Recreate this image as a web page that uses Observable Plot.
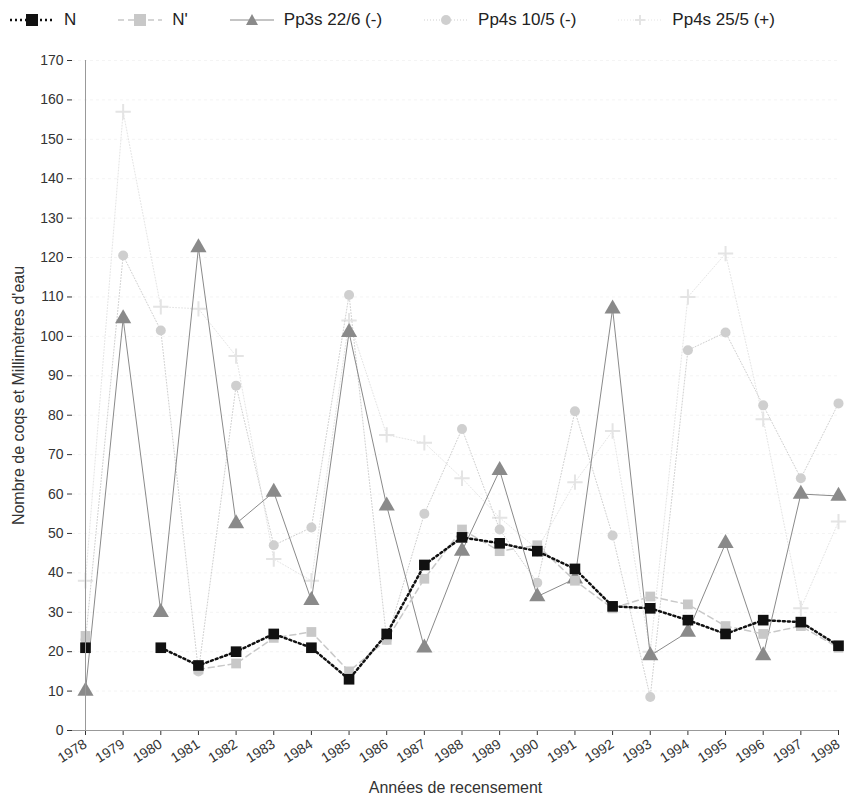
<!DOCTYPE html>
<html><head><meta charset="utf-8">
<script src="https://cdn.jsdelivr.net/npm/d3@7"></script>
<script src="https://cdn.jsdelivr.net/npm/@observablehq/plot@0.6"></script>
<style>
body{margin:0;background:#fff;font-family:"Liberation Sans",Arial,sans-serif;}
#legend{height:40px;display:flex;align-items:center;font-size:17px;color:#222;padding-left:8px;}
#legend .it{display:flex;align-items:center;margin-right:40px;}
#legend svg{margin-right:8px;}
</style></head><body>
<div id="legend"></div>
<div id="chart"></div>
<script>
const years = [1978,1979,1980,1981,1982,1983,1984,1985,1986,1987,1988,1989,1990,1991,1992,1993,1994,1995,1996,1997,1998];
const N      = [21,null,21,16.5,20,24.5,21,13,24.5,42,49,47.5,45.5,41,31.5,31,28,24.5,28,27.5,21.5];
const Nprime = [24,null,null,15.5,17,23.5,25,15,23,38.5,51,45.5,47,38,31,34,32,26.5,24.5,26.5,21];
const Pp3s   = [10,104.5,30,122.5,52.5,60.5,33,101,57,21,45.5,66,34,38.5,107,19,25,47.5,19,60,59.5];
const Pp4s10 = [23,120.5,101.5,15,87.5,47,51.5,110.5,23,55,76.5,51,37.5,81,49.5,8.5,96.5,101,82.5,64,83];
const Pp4s25 = [38,157,107.5,107,95,43.5,38,104,75,73,64,54,46,63,76,20,110,121,79,31,53];
const yTicks = d3.range(0,171,10);

const series = [
  {name:"N", vals:N, color:"#111", dash:"2,3", width:2.5, symbol:"square", r:6},
  {name:"N'", vals:Nprime, color:"#c8c8c8", dash:"6,4", width:1.5, symbol:"square", r:5.5},
  {name:"Pp3s 22/6 (-)", vals:Pp3s, color:"#8a8a8a", dash:null, width:1, symbol:"triangle", r:6},
  {name:"Pp4s 10/5 (-)", vals:Pp4s10, color:"#cfcfcf", dash:"1,2", width:1, symbol:"circle", r:5},
  {name:"Pp4s 25/5 (+)", vals:Pp4s25, color:"#e4e4e4", dash:"1,2", width:1, symbol:"plus", r:5}
];
const order = [4,3,2,1,0];
const marks = [Plot.ruleY(yTicks.slice(1), {stroke:"#f4f4f4", strokeDasharray:"3,3"})];
for (const i of order) {
  const s = series[i];
  const data = years.map((y,k)=>({year:y, v:s.vals[k]}));
  marks.push(Plot.line(data, {x:"year", y:"v", stroke:s.color, strokeWidth:s.width, strokeDasharray:s.dash}));
  const pts = data.filter(d=>d.v!=null);
  if (s.symbol==="plus") marks.push(Plot.dot(pts,{x:"year",y:"v",symbol:"plus",stroke:s.color,strokeWidth:2,r:s.r}));
  else marks.push(Plot.dot(pts,{x:"year",y:"v",symbol:s.symbol,fill:s.color,stroke:"none",r:s.r}));
}
marks.push(Plot.ruleY([0],{stroke:"#999"}));
marks.push(Plot.ruleX([1978],{stroke:"#999"}));

const chart = Plot.plot({
  width:856, height:760,
  marginLeft:72, marginRight:18, marginTop:20, marginBottom:70,
  insetLeft:13,
  style:{fontFamily:"Liberation Sans, Arial, sans-serif", fontSize:"14px", color:"#333"},
  x:{domain:[1978,1998], ticks:years, tickFormat:d=>String(d), tickRotate:-32, label:"Années de recensement", labelArrow:"none", labelAnchor:"center", labelOffset:62, tickSize:5},
  y:{domain:[0,170], ticks:yTicks, label:"Nombre de coqs et Millimètres d'eau", labelArrow:"none", labelAnchor:"center", labelOffset:60, tickSize:5},
  marks
});
chart.querySelectorAll("g[aria-label='x-axis label'] text, g[aria-label='y-axis label'] text").forEach(t=>t.setAttribute("font-size","16"));
document.getElementById("chart").appendChild(chart);

const leg = document.getElementById("legend");
for (const s of series) {
  const it = document.createElement("div"); it.className="it";
  const sym = s.symbol==="square" ? `<rect x="18" y="6" width="12" height="12" fill="${s.color}"/>` :
    s.symbol==="triangle" ? `<path d="M24,6 L30,17 L18,17Z" fill="${s.color}"/>` :
    s.symbol==="circle" ? `<circle cx="24" cy="12" r="5" fill="${s.color}"/>` :
    `<path d="M19,12H29M24,7V17" stroke="${s.color}" stroke-width="2"/>`;
  it.innerHTML = `<svg width="48" height="24"><line x1="2" x2="46" y1="12" y2="12" stroke="${s.color}" stroke-width="${s.width}" ${s.dash?`stroke-dasharray="${s.dash}"`:""}/>${sym}</svg><span>${s.name}</span>`;
  leg.appendChild(it);
}
</script></body></html>
